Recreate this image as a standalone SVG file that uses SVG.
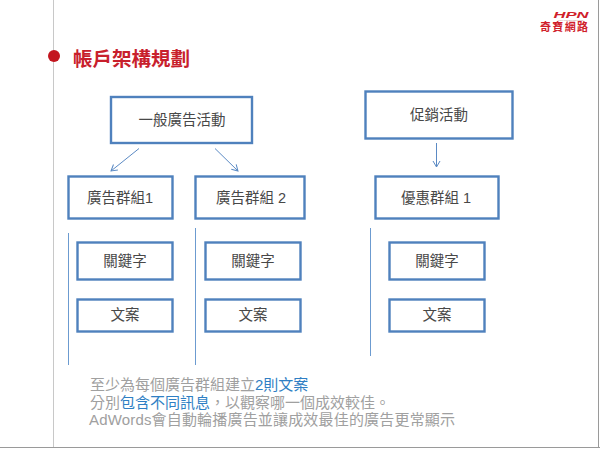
<svg xmlns="http://www.w3.org/2000/svg" width="600" height="449" viewBox="0 0 600 449">
<defs>
<marker id="arrow" markerUnits="userSpaceOnUse" markerWidth="12" markerHeight="12" refX="8" refY="6" orient="auto">
<path d="M2 2.500L8 6L2 9.500" fill="none" stroke="#5b8ac4" stroke-width="1"/>
</marker>
</defs>
<style>
text{font-family:"Liberation Sans","Noto Sans CJK TC",sans-serif}
.box{fill:#fff;stroke:#4f81bd;stroke-width:2.400}
.lbl{font-size:14.500px;fill:#484848;text-anchor:middle}
.arr{stroke:#5b8ac4;stroke-width:1;fill:none;marker-end:url(#arrow)}
.vl{stroke:#6c9bd0;stroke-width:1;fill:none}
.note{font-size:15px;fill:#a0a0a0}
.hi{fill:#2f7fc4}
.frame{stroke:#c8c8c8;fill:none}
</style>
<rect width="600" height="449" fill="#fff"/>
<g id="frame">
<path class="frame" d="M53.500 0V447" stroke-width="1"/>
<path d="M598.500 0V447M0 447.500H600" fill="none" stroke="#9a9a9a" stroke-width="1"/>
</g>
<g id="logo">
<text x="571" y="17.500" font-size="9" font-weight="700" font-style="italic" fill="#d0202a" text-anchor="middle" textLength="35" lengthAdjust="spacingAndGlyphs">HPN</text>
<text x="571" y="20.500" font-size="2.200" fill="#c89090" text-anchor="middle">LINK POWER NETWORK</text>
<text x="564" y="31" font-size="11" font-weight="700" fill="#d0202a" text-anchor="middle" textLength="48">奇寶網路</text>
</g>
<g id="title">
<circle cx="54" cy="56" r="6" fill="#c3161f"/>
<text x="73" y="66" font-size="19.500" font-weight="700" fill="#c8202c">帳戶架構規劃</text>
</g>
<g id="connectors">
<path class="arr" d="M139 148.500L111 171"/>
<path class="arr" d="M215 148.500L238 171"/>
<path class="arr" d="M436.500 143V167"/>
<path class="vl" d="M68.500 233V365"/>
<path class="vl" d="M195.500 228V365"/>
<path class="vl" d="M370.500 228V356"/>
</g>
<g id="n1"><rect class="box" x="111" y="97" width="141" height="46"/><text class="lbl" x="182" y="125">一般廣告活動</text></g>
<g id="n2"><rect class="box" x="68.500" y="176.500" width="104" height="42"/><text class="lbl" x="120" y="203">廣告群組1</text></g>
<g id="n3"><rect class="box" x="195.500" y="176.500" width="109" height="42"/><text class="lbl" x="251" y="203">廣告群組 2</text></g>
<g id="n4"><rect class="box" x="365.500" y="91.500" width="147" height="47"/><text class="lbl" x="439" y="120">促銷活動</text></g>
<g id="n5"><rect class="box" x="375.500" y="176.500" width="123" height="42"/><text class="lbl" x="436" y="203">優惠群組 1</text></g>
<g id="k1"><rect class="box" x="77.500" y="242.500" width="95" height="37"/><text class="lbl" x="125" y="266">關鍵字</text></g>
<g id="w1"><rect class="box" x="77.500" y="299.500" width="95" height="32"/><text class="lbl" x="125" y="320">文案</text></g>
<g id="k2"><rect class="box" x="205.500" y="242.500" width="95" height="37"/><text class="lbl" x="253" y="266">關鍵字</text></g>
<g id="w2"><rect class="box" x="205.500" y="299.500" width="95" height="32"/><text class="lbl" x="253" y="320">文案</text></g>
<g id="k3"><rect class="box" x="389.500" y="242.500" width="95" height="37"/><text class="lbl" x="437" y="266">關鍵字</text></g>
<g id="w3"><rect class="box" x="389.500" y="299.500" width="95" height="32"/><text class="lbl" x="437" y="320">文案</text></g>
<g id="note">
<text class="note" x="90" y="390">至少為每個廣告群組建立<tspan class="hi">2則文案</tspan></text>
<text class="note" x="90" y="407.500">分別<tspan class="hi">包含不同訊息</tspan>，以觀察哪一個成效較佳。</text>
<text class="note" x="89" y="425" textLength="366">AdWords會自動輪播廣告並讓成效最佳的廣告更常顯示</text>
</g>
</svg>
